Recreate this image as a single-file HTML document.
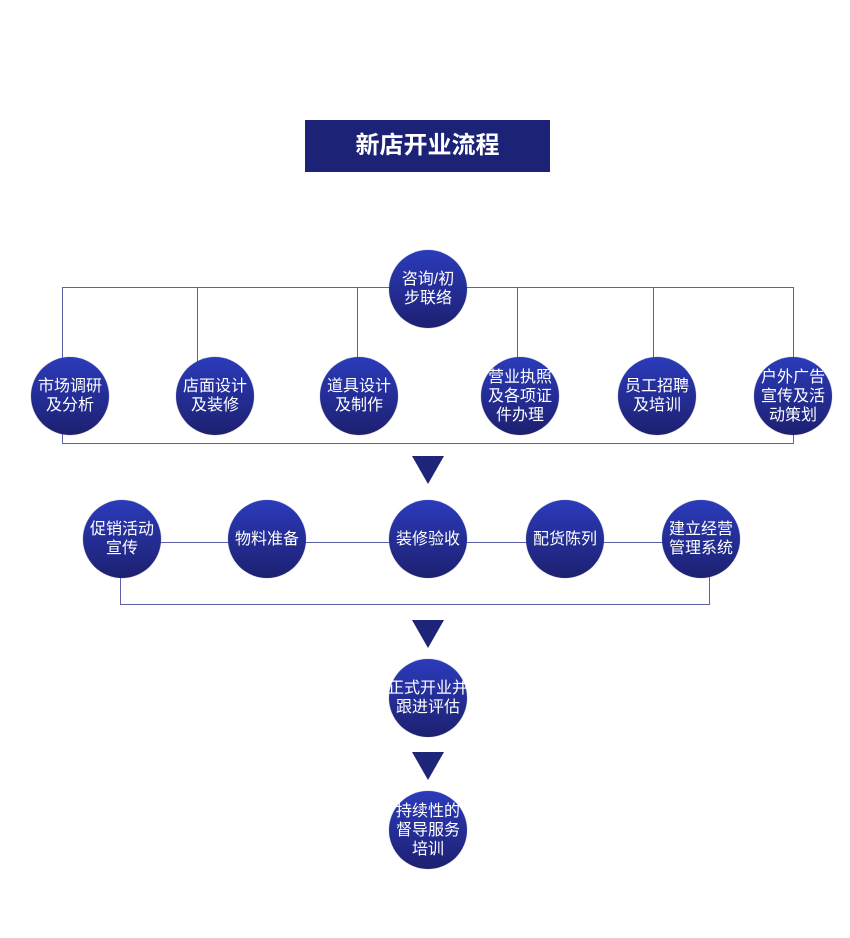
<!DOCTYPE html>
<html><head><meta charset="utf-8"><style>
body{margin:0;width:850px;height:938px;background:#fff;position:relative;overflow:hidden;font-family:"Liberation Sans","Noto Sans CJK SC",sans-serif}
.t{position:absolute;left:305px;top:120px;width:245px;height:52px;background:#1c2275;color:#fff;font-size:24px;font-weight:bold;text-align:center;line-height:52px}
.c{position:absolute;width:78px;height:78px;border-radius:50%;background:linear-gradient(#2b3bbb,#1d2070);color:#fff;font-size:16px;line-height:19px;display:flex;align-items:center;justify-content:center;text-align:center;white-space:nowrap;box-shadow:0 0 1px #889}
.c span{display:block}
.h{position:absolute;height:1px;background:#5c60aa}
.v{position:absolute;width:1px;background:#5c60aa}
.tri{position:absolute;width:0;height:0;border-left:16px solid transparent;border-right:16px solid transparent;border-top:28px solid #1e2478}
</style></head><body>
<div class="t">新店开业流程</div>

<div class="h" style="left:62px;top:287px;width:732px"></div>
<div class="v" style="left:62px;top:287px;height:157px"></div>
<div class="v" style="left:197px;top:287px;height:75px"></div>
<div class="v" style="left:357px;top:287px;height:75px"></div>
<div class="v" style="left:517px;top:287px;height:75px"></div>
<div class="v" style="left:653px;top:287px;height:75px"></div>
<div class="v" style="left:793px;top:287px;height:157px"></div>
<div class="h" style="left:62px;top:443px;width:732px"></div>

<div class="c" style="left:389px;top:250px"><span>咨询/初<br>步联络</span></div>
<div class="c" style="left:31px;top:357px"><span>市场调研<br>及分析</span></div>
<div class="c" style="left:176px;top:357px"><span>店面设计<br>及装修</span></div>
<div class="c" style="left:320px;top:357px"><span>道具设计<br>及制作</span></div>
<div class="c" style="left:481px;top:357px"><span>营业执照<br>及各项证<br>件办理</span></div>
<div class="c" style="left:618px;top:357px"><span>员工招聘<br>及培训</span></div>
<div class="c" style="left:754px;top:357px"><span>户外广告<br>宣传及活<br>动策划</span></div>

<div class="tri" style="left:412px;top:456px"></div>

<div class="h" style="left:122px;top:542px;width:580px"></div>
<div class="v" style="left:120px;top:540px;height:65px"></div>
<div class="v" style="left:709px;top:540px;height:65px"></div>
<div class="h" style="left:120px;top:604px;width:590px"></div>
<div class="c" style="left:83px;top:500px"><span>促销活动<br>宣传</span></div>
<div class="c" style="left:228px;top:500px"><span>物料准备</span></div>
<div class="c" style="left:389px;top:500px"><span>装修验收</span></div>
<div class="c" style="left:526px;top:500px"><span>配货陈列</span></div>
<div class="c" style="left:662px;top:500px"><span>建立经营<br>管理系统</span></div>

<div class="tri" style="left:412px;top:620px"></div>
<div class="c" style="left:389px;top:659px"><span>正式开业并<br>跟进评估</span></div>
<div class="tri" style="left:412px;top:752px"></div>
<div class="c" style="left:389px;top:791px"><span>持续性的<br>督导服务<br>培训</span></div>
</body></html>
